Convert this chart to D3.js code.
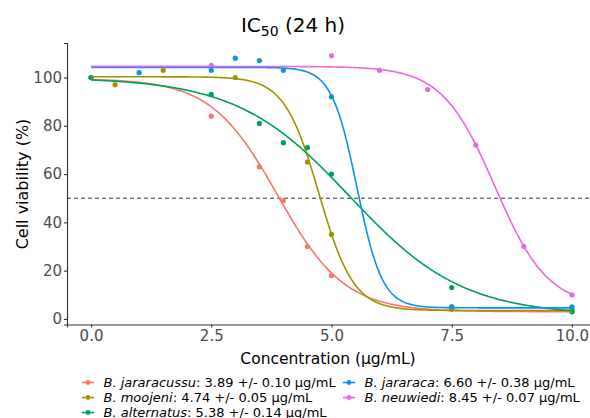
<!DOCTYPE html>
<html><head><meta charset="utf-8">
<script src="https://cdn.jsdelivr.net/npm/d3@7"></script>
<style>
body{margin:0;background:#fff;}
svg{display:block;font-family:"DejaVu Sans",sans-serif;}
</style></head>
<body><svg id="c" width="590" height="418"></svg>
<script>
const species = ["B. jararacussu","B. moojeni","B. alternatus","B. jararaca","B. neuwiedi"];
const ic50Labels = [": 3.89 +/- 0.10 µg/mL",": 4.74 +/- 0.05 µg/mL",": 5.38 +/- 0.14 µg/mL",": 6.60 +/- 0.38 µg/mL",": 8.45 +/- 0.07 µg/mL"];
const colors = ["#F8766D","#A39200","#00A05A","#0A92EC","#E868E4"];
// fitted curve parameters (top, bottom, midpoint, slope)
const fitTop = [99.5,100.3,100,104.2,104.6];
const fitBottom = [3,3.5,1.5,4.6,5];
const fitMid = [3.88,4.74,5.38,5.53,8.4];
const fitSlope = [1.44,2.78,0.85,3.8,1.815];
// observed points
const ptsJararacussu = [[0,100],[2.5,84],[3.5,63],[4,49],[4.5,30],[5,18],[7.5,5],[10,3]];
const ptsMoojeni = [[0,100],[0.5,97],[1.5,103],[3,100],[4.5,65],[5,35],[7.5,4],[10,4]];
const ptsAlternatus = [[0,100],[2.5,93],[3.5,81],[4,73],[4.5,71],[5,60],[7.5,13],[10,3]];
const ptsJararaca = [[1,102],[2.5,103],[3,108],[3.5,107],[4,103],[5,92],[7.5,5],[10,5]];
const ptsNeuwiedi = [[2.5,105],[5,109],[6,103],[7,95],[8,72],[9,30],[10,10]];
const points = [ptsJararacussu,ptsMoojeni,ptsAlternatus,ptsJararaca,ptsNeuwiedi];
const xTicks = [0,2.5,5,7.5,10];
const yTicks = [0,20,40,60,80,100];

const svg = d3.select("#c");
const x = d3.scaleLinear().domain([-0.5,10.5]).range([67,596]);
const y = d3.scaleLinear().domain([-2.3,114.3]).range([324.5,43]);

// axes
const xa = svg.append("g").attr("transform","translate(0,324.5)")
  .call(d3.axisBottom(x).tickValues(xTicks).tickFormat(d3.format(".1f")).tickSizeOuter(0).tickSize(3).tickPadding(3));
const ya = svg.append("g").attr("transform","translate(67,0)")
  .call(d3.axisLeft(y).tickValues(yTicks).tickSizeOuter(0).tickSize(3).tickPadding(2));
[xa,ya].forEach(a=>{
  a.select(".domain").attr("stroke","#333").attr("stroke-width",1.1);
  a.selectAll(".tick line").attr("stroke","#333").attr("stroke-width",1.1);
  a.selectAll(".tick text").attr("fill","#4D4D4D").attr("font-size",15).attr("font-family","DejaVu Sans");
});

// 50% line
svg.append("line").attr("x1",x(-0.5)).attr("x2",590).attr("y1",y(50)).attr("y2",y(50))
  .attr("stroke","#000").attr("stroke-width",0.8).attr("stroke-dasharray","4,3");

const xs = d3.range(0,10.0001,0.02);
const line = d3.line().x(d=>x(d[0])).y(d=>y(d[1]));
species.forEach((s,i)=>{
  svg.append("g").selectAll("circle").data(points[i]).join("circle")
    .attr("cx",d=>x(d[0])).attr("cy",d=>y(d[1])).attr("r",2.6).attr("fill",colors[i]);
});
species.forEach((s,i)=>{
  const curve = xs.map(v=>[v, fitBottom[i] + (fitTop[i]-fitBottom[i])/(1+Math.exp(fitSlope[i]*(v-fitMid[i])))]);
  svg.append("path").datum(curve).attr("d",line).attr("fill","none").attr("stroke",colors[i]).attr("stroke-width",1.6);
});

// titles
const t = svg.append("text").attr("x",293).attr("y",32).attr("text-anchor","middle").attr("font-size",20).attr("fill","#000");
t.append("tspan").text("IC");
t.append("tspan").text("50").attr("font-size",14).attr("dy",4);
t.append("tspan").text(" (24 h)").attr("dy",-4);

svg.append("text").attr("x",328).attr("y",364).attr("text-anchor","middle").attr("font-size",15.5).text("Concentration (µg/mL)");
svg.append("text").attr("transform","translate(28,184) rotate(-90)").attr("text-anchor","middle").attr("font-size",16).text("Cell viability (%)");

// legend
const legPos = [[88,382.5],[88,397.5],[88,412.5],[349,382.5],[349,397.5]];
species.forEach((s,i)=>{
  const [lx,ly] = legPos[i];
  const g = svg.append("g");
  g.append("line").attr("x1",lx-6).attr("x2",lx+6).attr("y1",ly).attr("y2",ly).attr("stroke",colors[i]).attr("stroke-width",1.6);
  g.append("circle").attr("cx",lx).attr("cy",ly).attr("r",2.4).attr("fill",colors[i]);
  const tx = g.append("text").attr("x",lx+15.5).attr("y",ly+4.8).attr("font-size",13).attr("fill","#000");
  tx.append("tspan").attr("font-style","italic").text(s);
  tx.append("tspan").text(ic50Labels[i]);
});
</script></body></html>
